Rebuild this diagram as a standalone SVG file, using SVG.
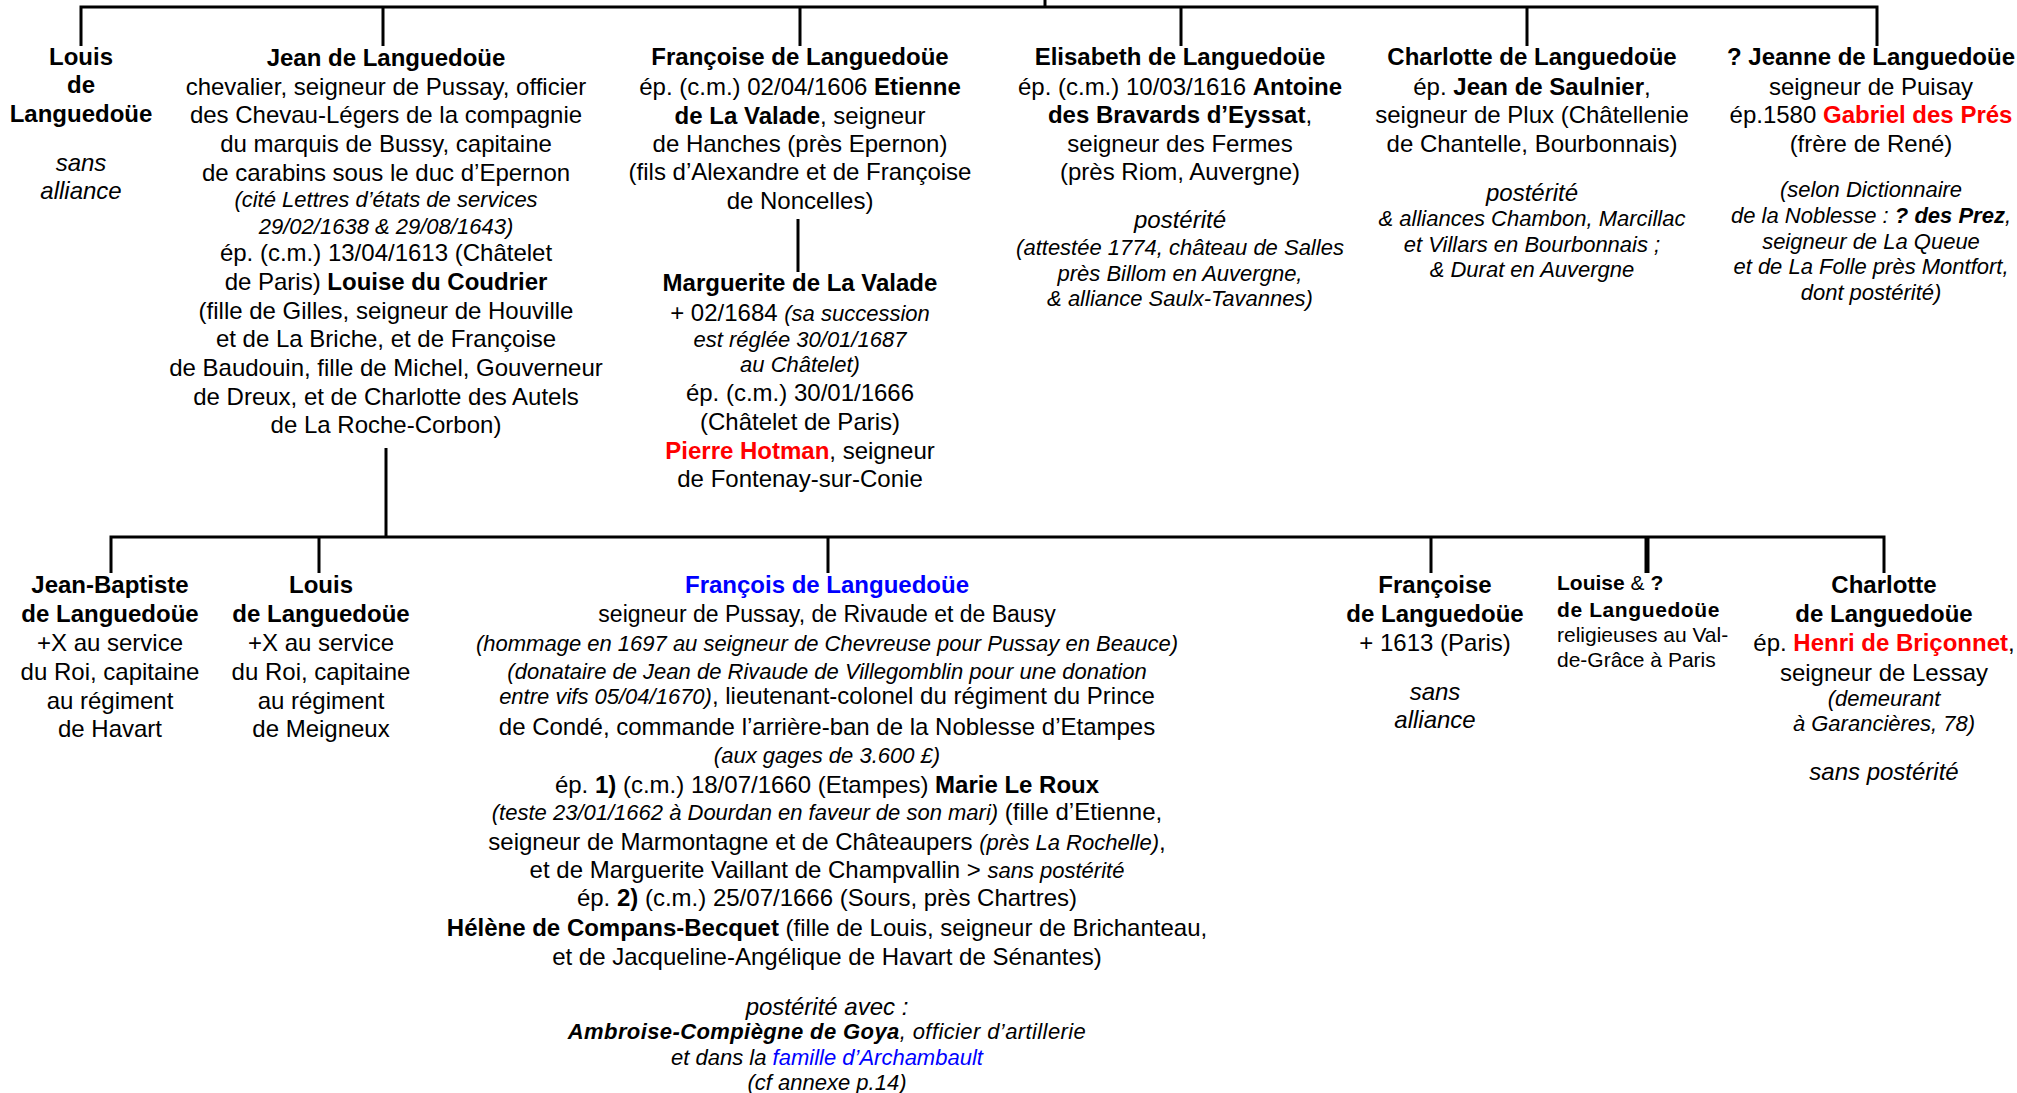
<svg xmlns="http://www.w3.org/2000/svg" width="2017" height="1093" viewBox="0 0 2017 1093">
<style>
text{font-family:"Liberation Sans",Arial,Helvetica,sans-serif;font-size:24px;fill:#000;text-anchor:middle}
.b{font-weight:bold}
.i{font-style:italic}
.s{font-size:22px}
.r{fill:#ff0000;font-weight:bold}
.bl{fill:#0000ff}
.l{text-anchor:start;font-size:21px}
.c path{fill:none;stroke:#000;stroke-width:3}
</style>
<rect width="2017" height="1093" fill="#fff"/>
<g class="c" id="connectors">
<path d="M1045,0V7"/>
<path d="M81,46V7H1877V46"/>
<path d="M383,7V46M800,7V46M1181,7V46M1527,7V46"/>
<path d="M798,219V272"/>
<path d="M386,448V537"/>
<path d="M111,573V537H1884V573"/>
<path d="M319,537V573M828,537V573M1431,537V573"/>
<path d="M1647,537V573" style="stroke-width:5"/>
</g>
<g id="louis">
<text x="81" y="65" class="b">Louis</text>
<text x="81" y="93" class="b">de</text>
<text x="81" y="122" class="b">Languedoüe</text>
<text x="81" y="171" class="i">sans</text>
<text x="81" y="199" class="i">alliance</text>
</g>
<g id="jean">
<text x="386" y="65.5" class="b">Jean de Languedoüe</text>
<text x="386" y="94.5">chevalier, seigneur de Pussay, officier</text>
<text x="386" y="122.5">des Chevau-Légers de la compagnie</text>
<text x="386" y="151.5">du marquis de Bussy, capitaine</text>
<text x="386" y="180.5">de carabins sous le duc d’Epernon</text>
<text x="386" y="206.5" class="i s">(cité Lettres d’états de services</text>
<text x="386" y="234" class="i s">29/02/1638 &amp; 29/08/1643)</text>
<text x="386" y="260.5">ép. (c.m.) 13/04/1613 (Châtelet</text>
<text x="386" y="289.5">de Paris) <tspan class="b">Louise du Coudrier</tspan></text>
<text x="386" y="318.5">(fille de Gilles, seigneur de Houville</text>
<text x="386" y="346.5">et de La Briche, et de Françoise</text>
<text x="386" y="375.5">de Baudouin, fille de Michel, Gouverneur</text>
<text x="386" y="404.5">de Dreux, et de Charlotte des Autels</text>
<text x="386" y="432.5">de La Roche-Corbon)</text>
</g>
<g id="francoise">
<text x="800" y="65" class="b">Françoise de Languedoüe</text>
<text x="800" y="94.5">ép. (c.m.) 02/04/1606 <tspan class="b">Etienne</tspan></text>
<text x="800" y="123.5"><tspan class="b">de La Valade</tspan>, seigneur</text>
<text x="800" y="151.5">de Hanches (près Epernon)</text>
<text x="800" y="179.5">(fils d’Alexandre et de Françoise</text>
<text x="800" y="208.5">de Noncelles)</text>
</g>
<g id="marguerite">
<text x="800" y="290.5" class="b">Marguerite de La Valade</text>
<text x="800" y="320.5">+ 02/1684 <tspan class="i s">(sa succession</tspan></text>
<text x="800" y="346.5" class="i s">est réglée 30/01/1687</text>
<text x="800" y="371.5" class="i s">au Châtelet)</text>
<text x="800" y="400.5">ép. (c.m.) 30/01/1666</text>
<text x="800" y="429.5">(Châtelet de Paris)</text>
<text x="800" y="458.5"><tspan class="r">Pierre Hotman</tspan>, seigneur</text>
<text x="800" y="486.5">de Fontenay-sur-Conie</text>
</g>
<g id="elisabeth">
<text x="1180" y="65" class="b">Elisabeth de Languedoüe</text>
<text x="1180" y="94.5">ép. (c.m.) 10/03/1616 <tspan class="b">Antoine</tspan></text>
<text x="1180" y="122.5"><tspan class="b">des Bravards d’Eyssat</tspan>,</text>
<text x="1180" y="151.5">seigneur des Fermes</text>
<text x="1180" y="179.5">(près Riom, Auvergne)</text>
<text x="1180" y="227.5" class="i">postérité</text>
<text x="1180" y="254.5" class="i s">(attestée 1774, château de Salles</text>
<text x="1180" y="280.5" class="i s">près Billom en Auvergne,</text>
<text x="1180" y="305.5" class="i s">&amp; alliance Saulx-Tavannes)</text>
</g>
<g id="charlotte">
<text x="1532" y="65" class="b">Charlotte de Languedoüe</text>
<text x="1532" y="94.5">ép. <tspan class="b">Jean de Saulnier</tspan>,</text>
<text x="1532" y="122.5">seigneur de Plux (Châtellenie</text>
<text x="1532" y="151.5">de Chantelle, Bourbonnais)</text>
<text x="1532" y="200.5" class="i">postérité</text>
<text x="1532" y="225.5" class="i s">&amp; alliances Chambon, Marcillac</text>
<text x="1532" y="251.5" class="i s">et Villars en Bourbonnais ;</text>
<text x="1532" y="276.5" class="i s">&amp; Durat en Auvergne</text>
</g>
<g id="jeanne">
<text x="1871" y="65" class="b">? Jeanne de Languedoüe</text>
<text x="1871" y="94.5">seigneur de Puisay</text>
<text x="1871" y="122.5">ép.1580 <tspan class="r">Gabriel des Prés</tspan></text>
<text x="1871" y="151.5">(frère de René)</text>
<text x="1871" y="196.5" class="i s">(selon Dictionnaire</text>
<text x="1871" y="222.5" class="i s">de la Noblesse : <tspan class="b">? des Prez</tspan>,</text>
<text x="1871" y="248.5" class="i s">seigneur de La Queue</text>
<text x="1871" y="273.5" class="i s">et de La Folle près Montfort,</text>
<text x="1871" y="299.5" class="i s">dont postérité)</text>
</g>
<g id="jean-baptiste">
<text x="110" y="592.5" class="b">Jean-Baptiste</text>
<text x="110" y="621.5" class="b">de Languedoüe</text>
<text x="110" y="650.5">+X au service</text>
<text x="110" y="679.5">du Roi, capitaine</text>
<text x="110" y="708.5">au régiment</text>
<text x="110" y="736.5">de Havart</text>
</g>
<g id="louis2">
<text x="321" y="592.5" class="b">Louis</text>
<text x="321" y="621.5" class="b">de Languedoüe</text>
<text x="321" y="650.5">+X au service</text>
<text x="321" y="679.5">du Roi, capitaine</text>
<text x="321" y="708.5">au régiment</text>
<text x="321" y="736.5">de Meigneux</text>
</g>
<g id="francois">
<text x="827" y="592.5" class="b bl">François de Languedoüe</text>
<text x="827" y="621.5" style="font-size:23px">seigneur de Pussay, de Rivaude et de Bausy</text>
<text x="827" y="650.5" class="i s">(hommage en 1697 au seigneur de Chevreuse pour Pussay en Beauce)</text>
<text x="827" y="678.5" class="i s">(donataire de Jean de Rivaude de Villegomblin pour une donation</text>
<text x="827" y="704"><tspan class="i s">entre vifs 05/04/1670)</tspan>, lieutenant-colonel du régiment du Prince</text>
<text x="827" y="734.5">de Condé, commande l’arrière-ban de la Noblesse d’Etampes</text>
<text x="827" y="762.5" class="i s">(aux gages de 3.600 £)</text>
<text x="827" y="792.5">ép. <tspan class="b">1)</tspan> (c.m.) 18/07/1660 (Etampes) <tspan class="b">Marie Le Roux</tspan></text>
<text x="827" y="820"><tspan class="i s">(teste 23/01/1662 à Dourdan en faveur de son mari)</tspan> (fille d’Etienne,</text>
<text x="827" y="849.5">seigneur de Marmontagne et de Châteaupers <tspan class="i s">(près La Rochelle)</tspan>,</text>
<text x="827" y="877.5">et de Marguerite Vaillant de Champvallin &gt; <tspan class="i s">sans postérité</tspan></text>
<text x="827" y="905.5">ép. <tspan class="b">2)</tspan> (c.m.) 25/07/1666 (Sours, près Chartres)</text>
<text x="827" y="935.5"><tspan class="b">Hélène de Compans-Becquet</tspan> (fille de Louis, seigneur de Brichanteau,</text>
<text x="827" y="964.5">et de Jacqueline-Angélique de Havart de Sénantes)</text>
<text x="827" y="1014.5" class="i">postérité avec :</text>
<text x="827" y="1038.5" class="i s" style="letter-spacing:0.4px"><tspan class="b">Ambroise-Compiègne de Goya</tspan>, officier d’artillerie</text>
<text x="827" y="1064.5" class="i s">et dans la <tspan class="bl">famille d’Archambault</tspan></text>
<text x="827" y="1089.5" class="i s">(cf annexe p.14)</text>
</g>
<g id="francoise2">
<text x="1435" y="592.5" class="b">Françoise</text>
<text x="1435" y="621.5" class="b">de Languedoüe</text>
<text x="1435" y="650.5">+ 1613 (Paris)</text>
<text x="1435" y="699.5" class="i">sans</text>
<text x="1435" y="727.5" class="i">alliance</text>
</g>
<g id="louise">
<text x="1557" y="590" class="l"><tspan class="b">Louise</tspan> &amp; <tspan class="b">?</tspan></text>
<text x="1557" y="617" class="l b" style="letter-spacing:0.6px">de Languedoüe</text>
<text x="1557" y="642" class="l">religieuses au Val-</text>
<text x="1557" y="667" class="l">de-Grâce à Paris</text>
</g>
<g id="charlotte2">
<text x="1884" y="592.5" class="b">Charlotte</text>
<text x="1884" y="621.5" class="b">de Languedoüe</text>
<text x="1884" y="650.5">ép. <tspan class="r">Henri de Briçonnet</tspan>,</text>
<text x="1884" y="680.5">seigneur de Lessay</text>
<text x="1884" y="705.5" class="i s">(demeurant</text>
<text x="1884" y="730.5" class="i s">à Garancières, 78)</text>
<text x="1884" y="779.5" class="i">sans postérité</text>
</g>
</svg>
